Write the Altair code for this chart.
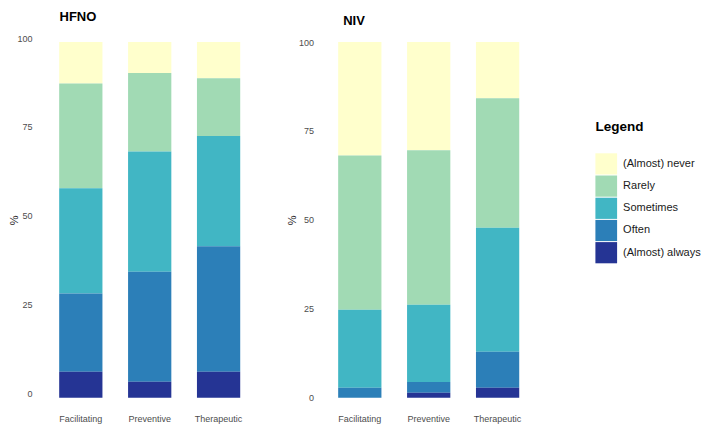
import altair as alt
import pandas as pd

categories = ["Facilitating", "Preventive", "Therapeutic"]
levels = ["(Almost) never", "Rarely", "Sometimes", "Often", "(Almost) always"]
colors = ["#ffffcc", "#a1dab4", "#41b6c4", "#2c7fb8", "#253494"]
legend_title = "Legend"

# values per level, in category order (Facilitating, Preventive, Therapeutic)
hfno_always = [7.3, 4.5, 7.3]
hfno_often = [22.0, 30.9, 35.3]
hfno_sometimes = [29.6, 33.8, 31.0]
hfno_rarely = [29.4, 22.1, 16.2]
hfno_never = [11.7, 8.7, 10.2]

niv_always = [0.0, 1.4, 2.8]
niv_often = [2.8, 3.0, 10.1]
niv_sometimes = [21.9, 21.7, 34.9]
niv_rarely = [43.4, 43.5, 36.4]
niv_never = [31.9, 30.4, 15.8]

y_ticks = [0, 25, 50, 75, 100]


def build(series):
    rows = []
    for lvl, vals in series.items():
        for cat, v in zip(categories, vals):
            rows.append({"category": cat, "level": lvl, "value": v,
                         "order": 4 - levels.index(lvl)})
    return pd.DataFrame(rows)


hfno_df = build({
    "(Almost) never": hfno_never, "Rarely": hfno_rarely,
    "Sometimes": hfno_sometimes, "Often": hfno_often,
    "(Almost) always": hfno_always,
})
niv_df = build({
    "(Almost) never": niv_never, "Rarely": niv_rarely,
    "Sometimes": niv_sometimes, "Often": niv_often,
    "(Almost) always": niv_always,
})

FONT = "Liberation Sans"
H = 355.7
color_scale = alt.Scale(domain=levels, range=colors)


def panel(df, title, width, po, label_offset, title_dx, lab_pad, tit_pad):
    return alt.Chart(df).mark_bar().encode(
        x=alt.X("category:N", sort=categories,
                scale=alt.Scale(paddingInner=0.372, paddingOuter=po),
                axis=alt.Axis(title=None, labelAngle=0, ticks=False, domain=False,
                              grid=False, labelPadding=17, labelFontSize=9,
                              labelColor="#4d4d4d", labelFont=FONT)),
        y=alt.Y("value:Q", stack="zero",
                scale=alt.Scale(domain=[0, 100], nice=False, zero=True),
                axis=alt.Axis(title="%", values=y_ticks, ticks=False, domain=False,
                              grid=False, labelPadding=lab_pad, labelFontSize=9,
                              labelColor="#4d4d4d", labelFont=FONT,
                              labelOffset=label_offset,
                              titleFontSize=11, titleColor="#1a1a1a",
                              titleFontWeight="normal", titleFont=FONT,
                              titlePadding=tit_pad)),
        color=alt.Color("level:N", sort=levels, scale=color_scale, legend=None),
        order=alt.Order("order:Q", sort="ascending"),
    ).properties(
        width=width, height=H,
        title=alt.TitleParams(title, anchor="start", frame="group", fontSize=13,
                              fontWeight="bold", font=FONT, color="#000000",
                              offset=10, dx=title_dx),
    )


c1 = panel(hfno_df, "HFNO", 221.4, 0.293, -4, 20.5, 7, -3)
c2 = panel(niv_df, "NIV", 224.2, 0.313, 0, 26.6, 3, 1)

# hand-built legend (keys drawn through band / linear scales)
key_df = pd.DataFrame({"level": levels, "len": [1] * len(levels)})
head_df = pd.DataFrame({"level": [levels[0]], "x0": [0], "t": [legend_title]})
y_key = alt.Y("level:N", sort=levels, axis=None,
              scale=alt.Scale(domain=levels, paddingInner=0.045,
                              paddingOuter=0, range=[111.3, 221.3]))
x_key = alt.X("len:Q", axis=None, scale=alt.Scale(domain=[0, 1], nice=False))

keys = alt.Chart(key_df).mark_bar().encode(
    x=x_key, y=y_key,
    color=alt.Color("level:N", sort=levels, scale=color_scale, legend=None),
)
key_labels = alt.Chart(key_df).mark_text(
    align="left", baseline="middle", dx=6, fontSize=11, color="#1a1a1a", font=FONT
).encode(x=x_key, y=y_key, text="level:N")
key_head = alt.Chart(head_df).mark_text(
    align="left", baseline="middle", dy=-36.8, fontSize=13.5, fontWeight="bold",
    color="#000000", font=FONT
).encode(x=alt.X("x0:Q", axis=None, scale=alt.Scale(domain=[0, 1], nice=False)),
         y=y_key, text="t:N")

legend = alt.layer(keys, key_labels, key_head).properties(width=21.7, height=260)

chart = alt.hconcat(
    alt.hconcat(c1, c2, spacing=24.6), legend, spacing=54.4
).properties(
    padding={"top": 3, "left": 0, "right": 0, "bottom": 0}
).configure(font=FONT).configure_view(stroke=None, strokeWidth=0)

chart.save("out.html", embed_options={"renderer": "svg", "actions": False})
